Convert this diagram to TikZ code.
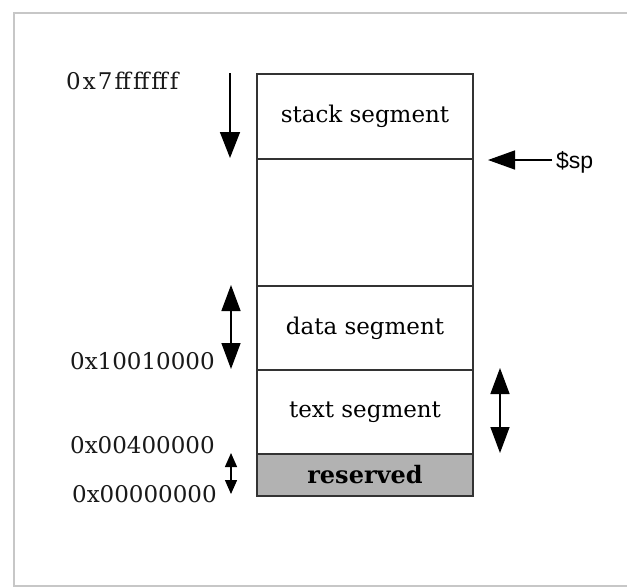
\documentclass[tikz,border=0pt]{standalone}
\usepackage{fontspec}
\setmainfont{DejaVu Serif}
\newfontfamily\spfont{Liberation Sans}
\newfontfamily\wideserif[LetterSpace=9]{DejaVu Serif}
\usetikzlibrary{arrows.meta}
\begin{document}
\begin{tikzpicture}[x=1pt,y=-1pt,
  seg/.style={draw=black!80, line width=1.5pt, minimum width=216pt, inner sep=0pt, font=\fontsize{23}{26}\selectfont},
  addr/.style={font=\fontsize{23}{26}\selectfont, inner sep=0pt, text=black!90},
  bigarr/.style={line width=1.5pt, -{Triangle[length=26pt,width=20pt]}},
  bigdbl/.style={line width=1.5pt, {Triangle[length=26pt,width=19pt]}-{Triangle[length=26pt,width=19pt]}},
  smalldbl/.style={line width=1.4pt, {Triangle[length=14pt,width=12pt]}-{Triangle[length=14pt,width=12pt]}}
]
\useasboundingbox (0,0) rectangle (627,587);
\fill[white] (0,0) rectangle (627,587);
% frame
\draw[black!22, line width=2pt] (640,13) -- (13.5,13) -- (13.5,586) -- (640,586);
% segments
\node[seg, minimum height=85pt] (stack) at (365,116.5) {stack segment};
\node[seg, minimum height=127pt] (free) at (365,222.5) {};
\node[seg, minimum height=84pt] (data) at (365,328) {data segment};
\node[seg, minimum height=84pt] (text) at (365,412) {text segment};
\node[seg, minimum height=42pt, fill=black!30] (res) at (365,475) {\fontsize{24}{26}\selectfont\bfseries reserved};
% addresses
\node[addr, anchor=base west, font=\wideserif\fontsize{23}{26}\selectfont] (a7f) at (66,89) {0x7fffffff};
\node[addr, anchor=base east] (a100) at (215,369) {0x10010000};
\node[addr, anchor=base east] (a004) at (215,453) {0x00400000};
\node[addr, anchor=base east] (a000) at (217,502) {0x00000000};
% $sp
\node[font=\spfont\fontsize{23}{26}\selectfont, anchor=base west, inner sep=0pt] (sp) at (556,168) {\$sp};
% arrow coordinates
\coordinate (s1) at (230,73);
\coordinate (s2) at (230,158);
\coordinate (d1) at (231,285);
\coordinate (d2) at (231,369);
\coordinate (t1) at (500,368);
\coordinate (t2) at (500,453);
\coordinate (r1) at (231,453);
\coordinate (r2) at (231,494);
\coordinate (spt) at (488,160);
\coordinate (sps) at (552,160);
\draw[bigarr] (s1) -- (s2);
\draw[bigdbl] (d1) -- (d2);
\draw[bigdbl] (t1) -- (t2);
\draw[smalldbl] (r1) -- (r2);
\draw[bigarr, -{Triangle[length=27pt,width=19pt]}] (sps) -- (spt);
\end{tikzpicture}
\end{document}
